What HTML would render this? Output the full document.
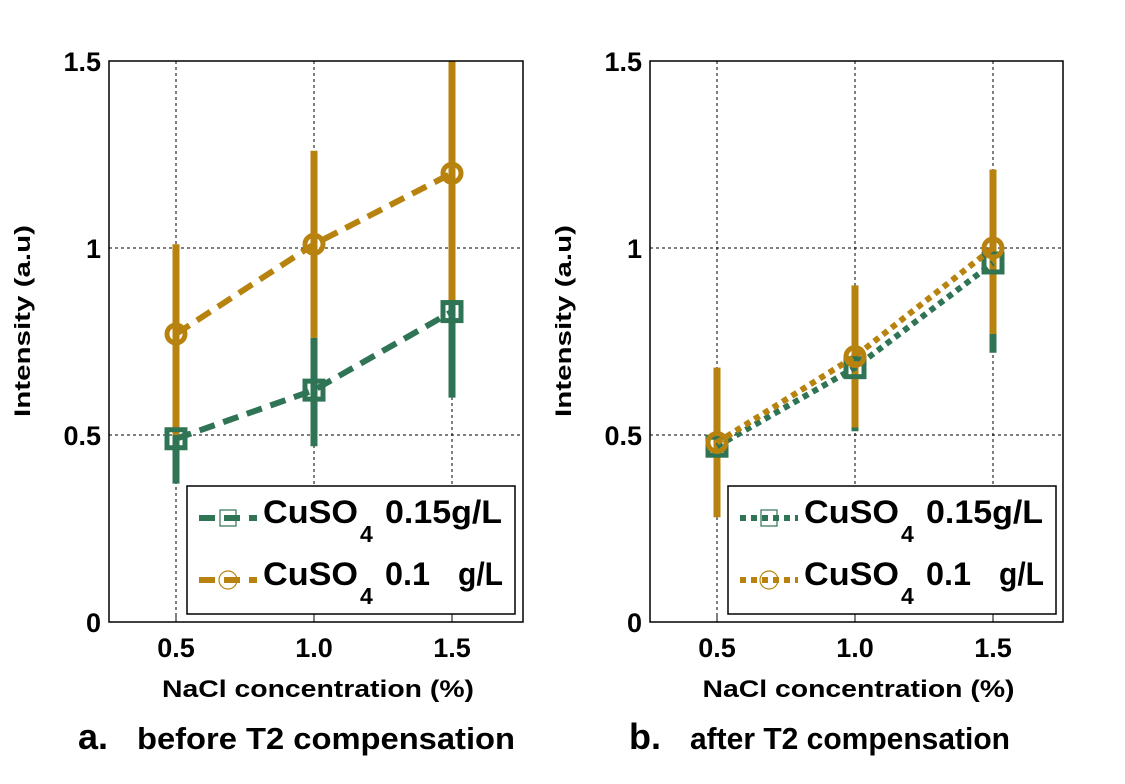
<!DOCTYPE html>
<html><head><meta charset="utf-8"><style>
body{margin:0;background:#fff}
svg{display:block;font-family:"Liberation Sans",Arial,sans-serif;font-weight:bold}
</style></head><body>
<svg id="fig" width="1125" height="784" viewBox="0 0 1125 784"></svg>
<script>
const xCats=[0.5,1.0,1.5];
const xTickLabels=["0.5","1.0","1.5"];
const yTicks=[0,0.5,1,1.5];
const yTickLabels=["0","0.5","1","1.5"];
// Panel a
const aGreen=[0.49,0.62,0.83];
const aGreenLo=[0.37,0.47,0.60];
const aGreenHi=[0.61,0.76,1.0];
const aOrange=[0.77,1.01,1.20];
const aOrangeLo=[0.50,0.76,0.86];
const aOrangeHi=[1.01,1.26,1.55];
// Panel b
const bGreen=[0.47,0.68,0.96];
const bGreenLo=[0.46,0.51,0.72];
const bGreenHi=[0.50,0.70,0.98];
const bOrange=[0.48,0.71,1.0];
const bOrangeLo=[0.28,0.52,0.77];
const bOrangeHi=[0.68,0.90,1.21];

const NS="http://www.w3.org/2000/svg";
const svg=document.getElementById('fig');
const G="#2f7455",O="#b8820e";
function el(t,a,p){const e=document.createElementNS(NS,t);for(const k in a)e.setAttribute(k,a[k]);(p||svg).appendChild(e);return e;}

function panel(id,L,R,data,dash,caption,capLetter,capX,capTextX,capLen){
  const T=61,B=622;
  const g=el('g',{});
  
  
  const xs=v=>L+67+(v-0.5)*276;
  const ys=v=>B-(v/1.5)*(B-T);
  const cp=el('clipPath',{id:'clip'+id},g);el('rect',{x:L,y:T,width:R-L,height:B-T},cp);
  xCats.forEach(v=>{const l=el('line',{x1:xs(v),x2:xs(v),y1:T,y2:B,stroke:'#000','stroke-width':1,'stroke-dasharray':'3 3'},g);
    });
  yTicks.forEach(v=>{if(v>0&&v<1.5){const l=el('line',{x1:L,x2:R,y1:ys(v),y2:ys(v),stroke:'#000','stroke-width':1,'stroke-dasharray':'3 3'},g);
    }});
  const pg=el('g',{'clip-path':'url(#clip'+id+')'},g);
  const series=[[data.g,data.gl,data.gh,G,'square'],[data.o,data.ol,data.oh,O,'circle']];
  series.forEach(([vals,lo,hi,c,m])=>{
    xCats.forEach((x,i)=>{const e=el('line',{x1:xs(x),x2:xs(x),y1:ys(lo[i]),y2:ys(hi[i]),stroke:c,'stroke-width':7},pg);
      });
  });
  series.forEach(([vals,lo,hi,c,m])=>{
    const pl=el('polyline',{points:xCats.map((x,i)=>xs(x)+','+ys(vals[i])).join(' '),fill:'none',stroke:c,'stroke-width':6,'stroke-dasharray':dash},pg);
    
    xCats.forEach((x,i)=>{let mk;
      if(m==='square')mk=el('rect',{x:xs(x)-9,y:ys(vals[i])-9,width:18,height:18,fill:'none',stroke:c,'stroke-width':5},pg);
      else mk=el('circle',{cx:xs(x),cy:ys(vals[i]),r:9,fill:'none',stroke:c,'stroke-width':5},pg);
      });
  });
  el('rect',{x:L,y:T,width:R-L,height:B-T,fill:'none',stroke:'#000','stroke-width':1.5},g);
  xCats.forEach((v,i)=>{el('line',{x1:xs(v),x2:xs(v),y1:B,y2:B-6,stroke:'#000'},g);
    const t=el('text',{x:xs(v),y:B+35,'font-size':27,'text-anchor':'middle'},g);t.textContent=xTickLabels[i];
    });
  yTicks.forEach((v,i)=>{const t=el('text',{x:L-8,y:ys(v)+10,'font-size':27,'text-anchor':'end'},g);t.textContent=yTickLabels[i];
    });
  const yt=el('text',{x:0,y:0,'font-size':22,'text-anchor':'middle',textLength:192,lengthAdjust:'spacingAndGlyphs',transform:`translate(${L-79},${321}) rotate(-90)`},g);yt.textContent='Intensity (a.u)';
  
  const xt=el('text',{x:(L+R)/2+2,y:697,'font-size':24,'text-anchor':'middle',textLength:312,lengthAdjust:'spacingAndGlyphs'},g);xt.textContent='NaCl concentration (%)';
  
  const c1=el('text',{x:capX,y:749,'font-size':36},g);c1.textContent=capLetter;
  
  const c2=el('text',{x:capTextX,y:749,'font-size':31,textLength:capLen,lengthAdjust:'spacingAndGlyphs'},g);c2.textContent=caption;
  
  const lg=el('g',{},g);
  const lx=L+78,ly=486;
  el('rect',{x:lx,y:ly,width:328,height:128,fill:'#fff',stroke:'#000','stroke-width':1.5},lg);
  [[G,'square',[['0.15g/L',0,117]]],[O,'circle',[['0.1',0,45],['g/L',73,45]]]].forEach(([c,m,labs],k)=>{
    const cy=ly+32+k*62;
    const e=el('g',{},lg);
    el('line',{x1:lx+12,x2:lx+70,y1:cy,y2:cy,stroke:c,'stroke-width':6,'stroke-dasharray':dash},e);
    if(m==='square')el('rect',{x:lx+33,y:cy-8,width:16,height:16,fill:'none',stroke:c,'stroke-width':1.2},e);
    else el('circle',{cx:lx+41,cy:cy,r:9,fill:'none',stroke:c,'stroke-width':1.2},e);
    const a=el('text',{x:lx+76,y:cy+5,'font-size':32,textLength:95,lengthAdjust:'spacingAndGlyphs'},e);a.textContent='CuSO';
    const b=el('text',{x:lx+173,y:cy+24,'font-size':23},e);b.textContent='4';
    labs.forEach(([s,dx,len])=>{const t=el('text',{x:lx+198+dx,y:cy+5,'font-size':32,textLength:len,lengthAdjust:'spacingAndGlyphs'},e);t.textContent=s;});
  });
}
panel('a',109,523,{g:aGreen,gl:aGreenLo,gh:aGreenHi,o:aOrange,ol:aOrangeLo,oh:aOrangeHi},'16 9','before T2 compensation','a.',78,137,378);
panel('b',650,1063,{g:bGreen,gl:bGreenLo,gh:bGreenHi,o:bOrange,ol:bOrangeLo,oh:bOrangeHi},'6 5','after T2 compensation','b.',629,690,320);
</script>
</body></html>
